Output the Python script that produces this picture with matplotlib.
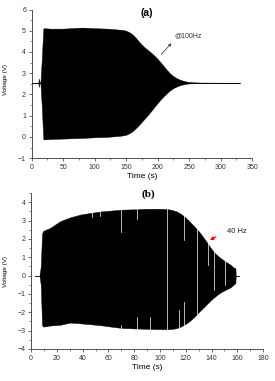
import numpy as np
import matplotlib
matplotlib.use("Agg")
import matplotlib.pyplot as plt
from matplotlib.ticker import MultipleLocator

plt.rcParams['font.family'] = ['Liberation Sans', 'DejaVu Sans']

# panel (a): envelope of the 100 Hz signal
t_a = [0, 10.5, 11.5, 12.5, 14, 16, 18.5, 20, 30, 50, 80, 100, 120, 140, 145, 150,
       155, 160, 165, 170, 175, 180, 185, 190, 195, 200, 205, 210, 215, 220, 225,
       230, 235, 240, 245, 250, 258, 270, 330]
upper_a = [2.55, 2.55, 2.75, 2.55, 2.6, 3.6, 5.1, 5.12, 5.1, 5.1, 5.15, 5.12, 5.1,
           5.05, 5.04, 5.0, 4.93, 4.83, 4.68, 4.5, 4.34, 4.2, 4.08, 3.96, 3.82, 3.67,
           3.5, 3.32, 3.14, 2.98, 2.86, 2.77, 2.7, 2.65, 2.61, 2.59, 2.57, 2.56, 2.55]
lower_a = [2.55, 2.55, 2.35, 2.55, 2.5, 1.5, -0.1, -0.12, -0.1, -0.08, -0.05, -0.02,
           0.0, 0.05, 0.07, 0.1, 0.17, 0.27, 0.4, 0.55, 0.72, 0.88, 1.05, 1.23, 1.42,
           1.6, 1.77, 1.93, 2.07, 2.2, 2.3, 2.37, 2.43, 2.47, 2.5, 2.52, 2.54, 2.55,
           2.55]
base_a = 2.55

# panel (b): envelope of the 40 Hz signal
t_b = [6.5, 7.5, 8.5, 9.5, 14.7, 22.5, 30.3, 38, 45.8, 53.5, 62, 70, 80, 90, 100,
       106, 110, 113, 116, 119, 122, 125, 128, 131, 134, 137, 140, 143, 146.6,
       150.5, 154.4, 157, 158.5, 158.7]
upper_b = [0, 0.5, 2.3, 2.45, 2.6, 2.97, 3.18, 3.33, 3.42, 3.5, 3.55, 3.6, 3.62, 3.65,
           3.65, 3.63, 3.57, 3.5, 3.38, 3.22, 3.02, 2.8, 2.58, 2.34, 2.05, 1.75,
           1.45, 1.2, 0.98, 0.78, 0.61, 0.45, 0.4, 0]
lower_b = [0, -0.5, -2.7, -2.78, -2.72, -2.68, -2.56, -2.6, -2.65, -2.7, -2.78, -2.85,
           -2.88, -2.9, -2.92, -2.92, -2.9, -2.86, -2.78, -2.67, -2.53, -2.35, -2.15,
           -1.92, -1.72, -1.5, -1.3, -1.12, -0.93, -0.78, -0.65, -0.5, -0.4, 0]
base_b_t = [3, 161]

# white dropouts in (b)
gap_t = [47, 53.5, 69.6, 82.5, 92.3, 105.3, 115, 118.7, 128.5, 137.5, 141.5, 150.5]
gap_top = [3.2, 3.25, 2.4, 3.1, np.nan, -3.0, np.nan, 1.95, -2.16, 0.6, -0.8, -0.5]
gap_bot = [np.nan, np.nan, -2.7, -2.26, -2.26, np.nan, -1.9, -1.43, np.nan, np.nan,
           np.nan, np.nan]

fig = plt.figure(figsize=(2.75, 3.81), dpi=100)
ax1 = fig.add_axes([0.115, 0.585, 0.802, 0.390])
ax2 = fig.add_axes([0.113, 0.084, 0.844, 0.409])


def style(ax):
    for s in ["top", "right"]:
        ax.spines[s].set_visible(False)
    for s in ["left", "bottom"]:
        ax.spines[s].set_linewidth(0.6)
        ax.spines[s].set_color("#333333")
    ax.tick_params(which="major", direction="out", length=2.5, width=0.5,
                   labelsize=5, pad=1.5, colors="#333333")
    ax.tick_params(which="minor", direction="out", length=1.3, width=0.4,
                   colors="#333333")


# (a)
ax1.fill_between(t_a, lower_a, upper_a, color="black", lw=0.3, edgecolor="black")
ax1.plot([0, 330], [base_a, base_a], color="black", lw=0.6)
ax1.set_xlim(0, 350)
ax1.set_ylim(-1, 6)
ax1.xaxis.set_major_locator(MultipleLocator(50))
ax1.xaxis.set_minor_locator(MultipleLocator(25))
ax1.yaxis.set_major_locator(MultipleLocator(1))
ax1.yaxis.set_minor_locator(MultipleLocator(0.5))
style(ax1)
ax1.set_xlabel("Time (s)", fontsize=6, labelpad=2)
ax1.set_ylabel("Voltage (V)", fontsize=4.5)
ax1.yaxis.set_label_coords(-0.107, 0.53)
ax1.text(182, 5.85, "(a)", fontsize=7.5, fontweight="bold", ha="center", va="center")
ax1.annotate("", xy=(224.8, 4.5), xytext=(202.5, 3.79),
             arrowprops=dict(arrowstyle="-|>", color="#333333", lw=0.5,
                             mutation_scale=4))
ax1.text(226, 4.77, "@100Hz", fontsize=5, ha="left", va="center", color="#333333")

# (b)
ax2.fill_between(t_b, lower_b, upper_b, color="black", lw=0.3, edgecolor="black")
ax2.plot(base_b_t, [0, 0], color="black", lw=0.6)
for t, top, bot in zip(gap_t, gap_top, gap_bot):
    if not np.isnan(top):
        ax2.plot([t, t], [top, 4.0], color="white", lw=0.5)
    if not np.isnan(bot):
        ax2.plot([t, t], [-3.5, bot], color="white", lw=0.5)
ax2.set_xlim(0, 180)
ax2.set_ylim(-4, 4.5)
ax2.xaxis.set_major_locator(MultipleLocator(20))
ax2.xaxis.set_minor_locator(MultipleLocator(10))
ax2.yaxis.set_major_locator(MultipleLocator(1))
ax2.yaxis.set_minor_locator(MultipleLocator(0.5))
style(ax2)
ax2.set_xlabel("Time (s)", fontsize=6, labelpad=2)
ax2.set_ylabel("Voltage (V)", fontsize=4.5)
ax2.yaxis.set_label_coords(-0.099, 0.5)
ax2.text(91, 4.47, "(b)", fontsize=8, fontweight="bold", ha="center", va="center",
         family="Liberation Serif")
ax2.annotate("", xy=(136.8, 1.88), xytext=(145.3, 2.19),
             arrowprops=dict(arrowstyle="-|>", color="red", lw=0.8,
                             mutation_scale=5))
ax2.text(151.8, 2.42, "40 Hz", fontsize=5.5, ha="left", va="center", color="#222222")

fig.savefig("out.png", dpi=100)
